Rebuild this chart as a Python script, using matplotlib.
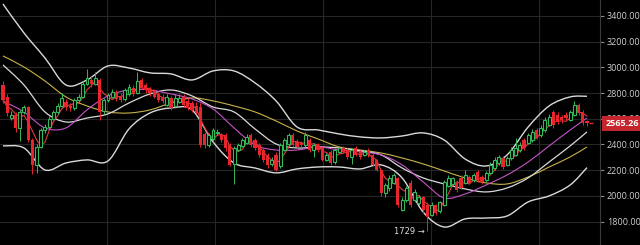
import numpy as np
import pandas as pd
from matplotlib import pyplot as plt
from matplotlib.path import Path
from matplotlib.patches import PathPatch

plt.rcParams['font.family'] = ['Open Sans', 'DejaVu Sans']

# daily candles (open, high, low, close)
opens = [2863, 2770, 2606, 2630, 2529, 2653, 2690, 2435, 2241, 2381,
         2513, 2536, 2600, 2653, 2700, 2730, 2700, 2680, 2745, 2770,
         2870, 2905, 2870, 2900, 2660, 2746, 2770, 2800, 2780, 2750,
         2790, 2840, 2800, 2900, 2860, 2830, 2810, 2790, 2770, 2710,
         2760, 2700, 2730, 2770, 2740, 2720, 2700, 2690, 2480, 2396,
         2440, 2490, 2474, 2470, 2396, 2250, 2360, 2390, 2410, 2474,
         2435, 2396, 2357, 2319, 2245, 2319, 2230, 2360, 2400, 2474,
         2420, 2410, 2396, 2435, 2357, 2396, 2373, 2280, 2342, 2264,
         2342, 2373, 2357, 2303, 2373, 2342, 2319, 2357, 2319, 2280,
         2202, 2023, 2062, 2101, 2140, 1891, 1968, 2101, 1968, 1945,
         1992, 1930, 1852, 1930, 1880, 1930, 2077, 2090, 2101, 2140,
         2101, 2147, 2124, 2186, 2147, 2124, 2179, 2217, 2256, 2295,
         2241, 2295, 2319, 2357, 2435, 2412, 2435, 2513, 2474, 2513,
         2552, 2653, 2630, 2614, 2630, 2591, 2630, 2708, 2653, 2580]
closes = [2746, 2645, 2630, 2529, 2653, 2690, 2435, 2241, 2381, 2513,
          2536, 2600, 2653, 2700, 2760, 2690, 2680, 2745, 2770, 2870,
          2915, 2870, 2915, 2653, 2746, 2785, 2810, 2750, 2746, 2824,
          2845, 2790, 2890, 2840, 2820, 2800, 2770, 2746, 2740, 2770,
          2684, 2760, 2765, 2708, 2684, 2669, 2653, 2396, 2396, 2474,
          2513, 2500, 2435, 2373, 2241, 2373, 2396, 2435, 2459, 2396,
          2373, 2319, 2280, 2241, 2280, 2202, 2396, 2435, 2474, 2396,
          2381, 2396, 2474, 2357, 2396, 2357, 2280, 2319, 2256, 2357,
          2373, 2342, 2303, 2357, 2319, 2303, 2342, 2319, 2241, 2202,
          2023, 2085, 2140, 2163, 1930, 1968, 2062, 1930, 2031, 1992,
          1891, 1836, 1930, 1867, 1950, 2109, 2140, 2140, 2046, 2062,
          2163, 2101, 2163, 2124, 2109, 2179, 2241, 2280, 2303, 2225,
          2295, 2357, 2373, 2396, 2373, 2474, 2498, 2451, 2529, 2591,
          2614, 2552, 2575, 2591, 2606, 2653, 2708, 2645, 2567, 2565.26]
highs = [2890, 2790, 2660, 2650, 2670, 2710, 2700, 2450, 2400, 2530,
         2560, 2620, 2670, 2720, 2800, 2750, 2720, 2760, 2790, 2890,
         2990, 2930, 2960, 2920, 2760, 2800, 2830, 2820, 2800, 2840,
         2870, 2860, 2960, 2920, 2880, 2850, 2830, 2810, 2790, 2790,
         2780, 2790, 2790, 2790, 2760, 2740, 2730, 2720, 2500, 2490,
         2530, 2520, 2490, 2490, 2410, 2390, 2410, 2450, 2480, 2490,
         2450, 2410, 2370, 2330, 2300, 2340, 2410, 2450, 2490, 2490,
         2440, 2430, 2500, 2450, 2410, 2410, 2390, 2330, 2360, 2370,
         2390, 2390, 2370, 2370, 2390, 2360, 2360, 2370, 2330, 2290,
         2210, 2100, 2160, 2180, 2150, 1990, 2080, 2120, 2050, 2010,
         2000, 1950, 1950, 1940, 1960, 2120, 2160, 2150, 2120, 2160,
         2200, 2160, 2180, 2200, 2160, 2190, 2260, 2300, 2320, 2310,
         2310, 2380, 2451, 2420, 2450, 2490, 2520, 2530, 2550, 2610,
         2640, 2670, 2650, 2630, 2650, 2670, 2740, 2720, 2670, 2590]
lows = [2720, 2620, 2590, 2500, 2430, 2640, 2420, 2170, 2180, 2370,
        2490, 2520, 2590, 2640, 2690, 2670, 2660, 2670, 2730, 2760,
        2860, 2850, 2860, 2590, 2640, 2730, 2760, 2740, 2730, 2740,
        2780, 2780, 2790, 2830, 2800, 2780, 2760, 2730, 2720, 2700,
        2670, 2680, 2720, 2690, 2670, 2650, 2640, 2380, 2370, 2380,
        2420, 2470, 2420, 2350, 2230, 2090, 2350, 2380, 2400, 2380,
        2360, 2300, 2260, 2220, 2230, 2190, 2220, 2350, 2390, 2380,
        2370, 2380, 2380, 2340, 2300, 2340, 2270, 2270, 2240, 2250,
        2330, 2330, 2290, 2250, 2310, 2290, 2310, 2300, 2230, 2190,
        2000, 1990, 2040, 2090, 1910, 1880, 1950, 1910, 1950, 1930,
        1870, 1729, 1840, 1850, 1870, 1920, 2070, 2080, 2030, 2050,
        2090, 2090, 2110, 2110, 2090, 2110, 2170, 2200, 2240, 2210,
        2230, 2280, 2310, 2340, 2360, 2400, 2420, 2440, 2460, 2500,
        2540, 2530, 2560, 2570, 2590, 2580, 2620, 2630, 2550, 2540]

line_idx = [0, 5, 10, 15, 20, 25, 30, 35, 40, 45, 50, 55, 60, 65, 70,
            75, 80, 85, 90, 95, 100, 105, 110, 115, 120, 125, 130, 135, 139]
bb_upper = [3493, 3268, 3073, 2863, 2902, 3011, 2995, 2957, 2949, 2902,
            2972, 2972, 2879, 2739, 2536, 2513, 2482, 2459, 2451, 2466,
            2490, 2435, 2287, 2233, 2319, 2536, 2700, 2770, 2775]
bb_mid = [3019, 2863, 2653, 2575, 2606, 2638, 2723, 2793, 2824, 2778,
          2692, 2653, 2521, 2404, 2373, 2381, 2373, 2350, 2319, 2217,
          2140, 2093, 2054, 2031, 2062, 2140, 2264, 2389, 2498]
bb_lower = [2389, 2373, 2202, 2256, 2280, 2272, 2521, 2645, 2684, 2669,
            2420, 2256, 2217, 2179, 2210, 2225, 2225, 2210, 2241, 2140,
            1875, 1758, 1821, 1828, 1844, 1953, 2000, 2085, 2220]
ma_long = [3089, 3003, 2894, 2770, 2700, 2653, 2645, 2669, 2723, 2762,
           2739, 2700, 2653, 2583, 2505, 2443, 2381, 2357, 2334, 2295,
           2249, 2194, 2140, 2101, 2093, 2147, 2225, 2303, 2381]
ma_mid = [2739, 2653, 2529, 2529, 2669, 2778, 2824, 2824, 2793, 2754,
          2676, 2529, 2396, 2357, 2357, 2381, 2357, 2342, 2319, 2241,
          2109, 1984, 2015, 2085, 2163, 2264, 2389, 2513, 2606]

y_ticks = [1800, 2000, 2200, 2400, 2600, 2800, 3000, 3200, 3400]
low_label = '1729'

RED = '#e8242c'
GREEN = '#35b85a'


def smooth_line(ax, xs, ys, color, lw):
    # draw a curve through the read points (catmull-rom as bezier segments)
    pts = np.column_stack([xs, ys]).astype(float)
    pad = np.vstack([pts[0], pts, pts[-1]])
    verts = [pts[0]]
    codes = [Path.MOVETO]
    for i in range(len(pts) - 1):
        p0, p1, p2, p3 = pad[i], pad[i + 1], pad[i + 2], pad[i + 3]
        verts += [p1 + (p2 - p0) / 6, p2 - (p3 - p1) / 6, p2]
        codes += [Path.CURVE4] * 3
    ax.add_patch(PathPatch(Path(verts, codes), fill=False, edgecolor=color,
                           lw=lw, zorder=2))


n = len(closes)
x = np.arange(n)
o = np.array(opens, dtype=float)
c = np.array(closes, dtype=float)
up = c >= o

fig = plt.figure(figsize=(6.4, 2.45), dpi=100, facecolor='black')
ax = fig.add_axes([0, 0, 600 / 640, 1], facecolor='black')

# grid
for t in y_ticks:
    ax.axhline(t, color='#262626', lw=0.8, zorder=0)
for gx in [24.8, 50.5, 76.2, 101.9, 127.6]:
    ax.axvline(gx, color='#262626', lw=0.8, zorder=0)

# bollinger bands + moving averages
smooth_line(ax, line_idx, ma_long, '#c8b34a', 0.8)
smooth_line(ax, line_idx, bb_upper, '#d9d9d9', 1.0)
smooth_line(ax, line_idx, bb_lower, '#d9d9d9', 1.0)
smooth_line(ax, line_idx, bb_mid, '#d9d9d9', 0.9)
smooth_line(ax, line_idx, ma_mid, '#c455c8', 0.8)
ma_short = pd.Series(closes).rolling(4, min_periods=1).mean()
ax.plot(x, ma_short, color='#e33a3a', lw=0.8, zorder=2)

# candles
ax.vlines(x[up], np.array(lows)[up], np.array(highs)[up], color=GREEN, lw=0.7, zorder=3)
ax.vlines(x[~up], np.array(lows)[~up], np.array(highs)[~up], color=RED, lw=0.7, zorder=3)
ax.bar(x[up], (c - o)[up], bottom=o[up], width=0.7, facecolor='black',
       edgecolor=GREEN, linewidth=0.8, zorder=4)
ax.bar(x[~up], (o - c)[~up], bottom=c[~up], width=0.75, color=RED, zorder=4)

# low marker
low_i = int(np.argmin(lows))
ax.text(low_i - 0.6, lows[low_i] - 5, low_label + ' \u2192', color='#dddddd',
        fontsize=6, ha='right', va='center', zorder=5,
        family=['DejaVu Sans'])

ax.set_xlim(-0.7, 142.1)
ax.set_ylim(1618, 3524)
ax.yaxis.tick_right()
ax.set_yticks(y_ticks)
ax.set_yticklabels(['%.2f' % t for t in y_ticks], color='#cfcfcf', fontsize=6.5)
ax.tick_params(axis='y', length=3, color='#888888', pad=2)
ax.set_xticks([])
for s in ['top', 'bottom', 'left']:
    ax.spines[s].set_visible(False)
ax.spines['right'].set_color('#3a3a3a')

# current price tag
ax.annotate('%.2f' % closes[-1], xy=(1.0, closes[-1]),
            xycoords=('axes fraction', 'data'), xytext=(4, 0),
            textcoords='offset points', color='white', fontsize=6.5,
            fontweight='bold', va='center', ha='left', annotation_clip=False,
            bbox=dict(boxstyle='square,pad=0.35', fc='#c4242b', ec='none'))
ax.plot([x[-1] + 1], [closes[-1]], marker='_', color=RED, ms=3)

plt.savefig('out.png', dpi=100, facecolor='black')
